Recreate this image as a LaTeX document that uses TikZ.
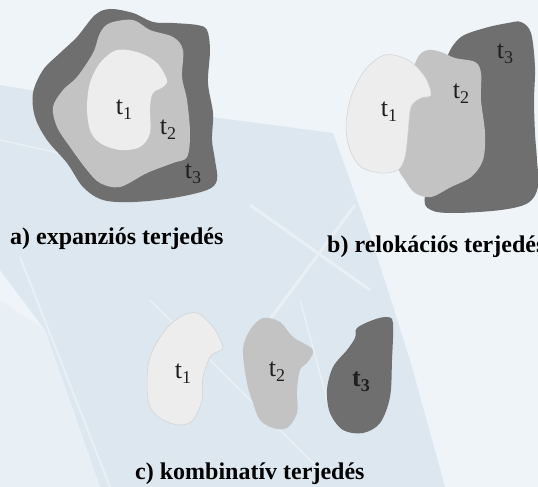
\documentclass[tikz,border=0pt]{standalone}
\usepackage{fontspec}
\setmainfont{Liberation Serif}

\definecolor{bgblue}{HTML}{EEF4F8}
\definecolor{wmblue}{HTML}{DDE7EF}
\definecolor{beamblue}{HTML}{E8F0F5}
\definecolor{tone1}{HTML}{EDEDED}
\definecolor{tone2}{HTML}{C3C3C3}
\definecolor{tone3}{HTML}{6F6F6F}

\newcommand\tsub[1]{t\raisebox{-5pt}{\fontsize{18}{18}\selectfont #1}}

\begin{document}
\begin{tikzpicture}[x=1pt,y=-1pt,
  tlab/.style={font=\fontsize{26}{26}\selectfont,text=black!88,inner sep=0pt},
  caption/.style={font=\fontsize{24}{24}\selectfont\bfseries,inner sep=0pt,anchor=base west}]
  \useasboundingbox (0,0) rectangle (538,487);

  % Background and pylon watermark
  \fill[bgblue] (0,0) rectangle (538,487);
  \fill[wmblue] (0,85) -- (120,105) -- (333,133) -- (375,250) -- (410,360) -- (445,487)
    -- (100,487) -- (45,330) -- (0,270) -- cycle;
  \fill[beamblue] (0,300) -- (45,330) -- (100,487) -- (0,487) -- cycle;
  \draw[beamblue,line width=2pt] (20,257) -- (110,487);
  \draw[beamblue,line width=1.5pt] (150,300) -- (330,480);
  \draw[beamblue,line width=3pt] (250,205) -- (370,290);
  \draw[beamblue,line width=3pt] (355,205) -- (262,330);
  \draw[beamblue,line width=1.5pt] (0,140) -- (90,160);
  \draw[beamblue,line width=1.5pt] (300,300) -- (330,410);

  % a) expansion
  \fill[tone3] plot[smooth cycle,tension=0.55] coordinates {(95,15) (110,9) (133,13) (153,22) (173,23)
    (197,25) (207,30) (210,50) (208,83) (213,113) (212,140) (215,160) (217,180) (207,190) (173,198)
    (133,202) (103,200) (83,187) (67,163) (47,140) (35,117) (33,93) (43,70) (60,53) (77,37)};
  \fill[tone2] plot[smooth cycle,tension=0.55] coordinates {(110,23) (133,20) (150,30) (173,37) (183,50)
    (182,77) (187,100) (190,133) (187,157) (173,163) (147,173) (120,187) (100,183) (87,170) (70,147)
    (57,127) (53,107) (63,90) (77,77) (93,53) (100,33)};
  \fill[tone1] plot[smooth cycle,tension=0.55] coordinates {(117,50) (140,53) (157,63) (167,80) (163,87)
    (153,93) (150,107) (150,133) (140,147) (120,150) (100,143) (90,130) (87,107) (90,83) (100,63)};
  \node[tlab] (a1) at (124,110) {\tsub{1}};
  \node[tlab] (a2) at (168,130) {\tsub{2}};
  \node[tlab] (a3) at (193,174) {\tsub{3}};
  \node[caption] (capa) at (10,244) {a) expanziós terjedés};

  % b) relocation
  \fill[tone3] plot[smooth cycle,tension=0.55] coordinates {(448,55) (461,37) (485,28) (508,23) (521,22)
    (531,33) (535,67) (534,100) (535,133) (537,160) (538,187) (528,203) (501,210) (455,213) (431,210)
    (425,195) (440,130) (445,80)};
  \fill[tone2] plot[smooth cycle,tension=0.55] coordinates {(418,57) (428,50) (441,52) (455,58) (475,62)
    (481,73) (481,100) (485,133) (483,160) (471,177) (451,187) (431,197) (415,193) (405,180) (398,165)
    (400,120) (410,80)};
  \filldraw[fill=tone1,draw=black!18,line width=0.5pt] plot[smooth cycle,tension=0.55] coordinates {(385,55)
    (408,60) (425,77) (431,95) (421,98) (411,107) (408,133) (405,157) (398,170) (381,173) (361,167)
    (350,150) (346,127) (351,97) (365,70)};
  \node[tlab] (b1) at (389,112) {\tsub{1}};
  \node[tlab] (b2) at (461,94) {\tsub{2}};
  \node[tlab] (b3) at (505,54) {\tsub{3}};
  \node[caption] (capb) at (327,252) {b) relokációs terjedés};

  % c) combined
  \filldraw[fill=tone1,draw=black!18,line width=0.5pt] plot[smooth cycle,tension=0.55] coordinates {(197,313)
    (213,327) (223,347) (217,352) (210,357) (203,377) (202,400) (193,420) (180,425) (163,420) (150,407)
    (147,383) (150,357) (163,333) (180,317)};
  \fill[tone2] plot[smooth cycle,tension=0.55] coordinates {(263,318) (280,322) (293,337) (310,347) (313,353)
    (307,363) (300,370) (297,390) (297,413) (287,428) (273,428) (260,420) (253,403) (247,383) (243,350)
    (250,330)};
  \fill[tone3] plot[smooth cycle,tension=0.55] coordinates {(357,328) (373,320) (387,317) (393,323) (392,360)
    (390,397) (380,423) (363,433) (343,430) (330,413) (327,390) (333,367) (347,350) (355,338)};
  \node[tlab] (c1) at (183,374) {\tsub{1}};
  \node[tlab] (c2) at (277,372) {\tsub{2}};
  \node[tlab,font=\fontsize{26}{26}\selectfont\bfseries] (c3) at (361,382) {\tsub{3}};
  \node[caption] (capc) at (135,479) {c) kombinatív terjedés};
\end{tikzpicture}
\end{document}
